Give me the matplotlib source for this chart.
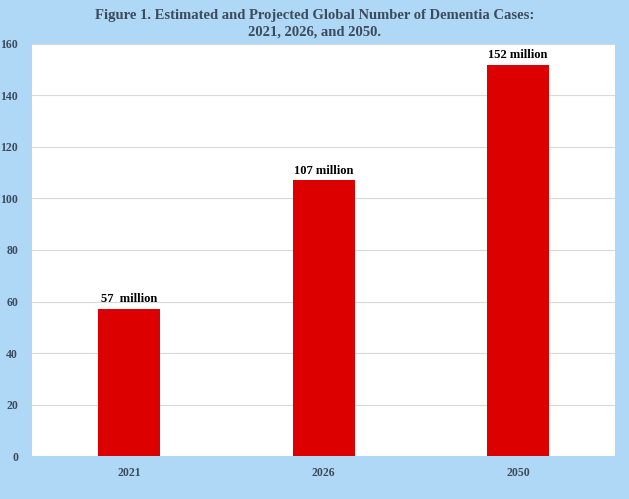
import numpy as np
import matplotlib.pyplot as plt

years = ['2021', '2026', '2050']
cases = [57, 107, 152]
labels = ['57  million', '107 million', '152 million']
yticks = [0, 20, 40, 60, 80, 100, 120, 140, 160]

bg = '#aed8f5'
txt = '#3d4b5c'
plt.rcParams['font.family'] = ['Liberation Serif', 'DejaVu Serif']

fig = plt.figure(figsize=(6.29, 4.99), dpi=100, facecolor=bg)
ax = fig.add_axes([0.051, 0.086, 0.927, 0.826])
ax.set_facecolor('white')

x = np.arange(len(years))
ax.bar(x, cases, width=0.32, color='#dd0000', zorder=3)
for xi, v, lab in zip(x, cases, labels):
    ax.text(xi, v + 1.5, lab, ha='center', va='bottom', fontsize=9,
            fontweight='bold', color='black', zorder=4)

ax.set_xlim(-0.5, 2.5)
ax.set_ylim(0, 160)
ax.set_yticks(yticks)
ax.set_xticks(x)
ax.set_xticklabels(years)
ax.grid(axis='y', color='#d9d9d9', linewidth=0.8, zorder=0)
for s in ax.spines.values():
    s.set_visible(False)
ax.tick_params(length=0, labelsize=8.5, colors=txt, pad=8)
for t in ax.get_xticklabels() + ax.get_yticklabels():
    t.set_fontweight('bold')
ax.tick_params(axis='y', pad=10)

fig.text(0.5, 0.968, 'Figure 1. Estimated and Projected Global Number of Dementia Cases:',
         ha='center', va='center', fontsize=10.5, fontweight='bold', color=txt)
fig.text(0.5, 0.935, '2021, 2026, and 2050.',
         ha='center', va='center', fontsize=10.5, fontweight='bold', color=txt)

fig.savefig('out.png', dpi=100, facecolor=bg)
